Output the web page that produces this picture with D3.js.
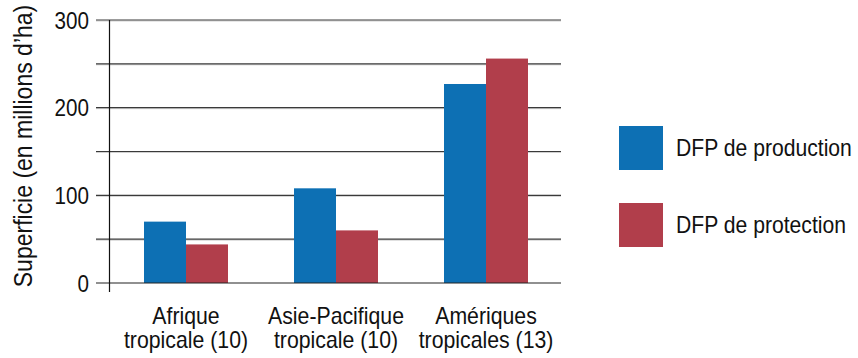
<!DOCTYPE html>
<html>
<head>
<meta charset="utf-8">
<script src="https://cdn.jsdelivr.net/npm/d3@7"></script>
<style>
  body { margin: 0; background: #fff; }
  svg text { font-family: "Liberation Sans", Arial, sans-serif; fill: #111; }
</style>
</head>
<body>
<div id="chart"></div>
<script>
var categories = [["Afrique", "tropicale (10)"], ["Asie-Pacifique", "tropicale (10)"], ["Amériques", "tropicales (13)"]];
var seriesNames = ["DFP de production", "DFP de protection"];
var production = [70, 108, 227];
var protection = [44, 60, 256];
var yTicks = [0, 100, 200, 300];
var gridValues = [50, 100, 150, 200, 250, 300];
var colors = ["#0d70b4", "#b13e4b"];

var svg = d3.select("#chart").append("svg")
    .attr("width", 858)
    .attr("height", 358);

var y = d3.scaleLinear().domain([0, 300]).range([283, 20]);
var x = d3.scaleBand()
    .domain(d3.range(categories.length))
    .range([111, 561])
    .paddingInner(0.44)
    .paddingOuter(0.22);
var xs = d3.scaleBand().domain([0, 1]).range([0, x.bandwidth()]);

// gridlines (with a faint shadow under each)
svg.append("g").selectAll("line")
    .data(gridValues)
    .enter().append("line")
    .attr("x1", 96).attr("x2", 561)
    .attr("y1", function(d) { return y(d) + 1; })
    .attr("y2", function(d) { return y(d) + 1; })
    .style("stroke", "#d0d0d0").style("stroke-width", 1);
svg.append("g").selectAll("line")
    .data(gridValues)
    .enter().append("line")
    .attr("x1", 96).attr("x2", 561)
    .attr("y1", function(d) { return y(d); })
    .attr("y2", function(d) { return y(d); })
    .style("stroke", "#3a3a3a").style("stroke-width", 1.2);

// bars
var data = [production, protection];
var groups = svg.append("g").selectAll("g")
    .data(data)
    .enter().append("g")
    .style("fill", function(d, i) { return colors[i]; });
groups.each(function(series, si) {
    d3.select(this).selectAll("rect")
        .data(series)
        .enter().append("rect")
        .attr("x", function(d, i) { return x(i) + xs(si); })
        .attr("y", function(d) { return y(d); })
        .attr("width", xs.bandwidth())
        .attr("height", function(d) { return y(0) - y(d); });
});

// baseline
svg.append("line")
    .attr("x1", 96).attr("x2", 561)
    .attr("y1", y(0)).attr("y2", y(0))
    .style("stroke", "#222").style("stroke-width", 1.2);

// y axis line
svg.append("line")
    .attr("x1", 109.5).attr("x2", 109.5)
    .attr("y1", y(300)).attr("y2", 292)
    .style("stroke", "#111").style("stroke-width", 1.2);

// y tick labels (narrow look: squeeze horizontally)
svg.append("g").selectAll("text")
    .data(yTicks)
    .enter().append("text")
    .attr("transform", function(d) { return "translate(89," + y(d) + ") scale(0.86,1)"; })
    .attr("dy", "0.36em")
    .attr("text-anchor", "end")
    .style("font-size", "24px")
    .text(function(d) { return d; });

// y axis title
svg.append("text")
    .attr("transform", "translate(32,146) rotate(-90) scale(0.92,1)")
    .attr("text-anchor", "middle")
    .style("font-size", "25px")
    .text("Superficie (en millions d’ha)");

// x labels
var xl = svg.append("g").selectAll("text")
    .data(categories)
    .enter().append("text")
    .attr("transform", function(d, i) { return "translate(" + (x(i) + x.bandwidth() / 2) + ",0) scale(0.925,1)"; })
    .attr("text-anchor", "middle")
    .style("font-size", "23px");
xl.append("tspan")
    .attr("x", 0)
    .attr("y", 324)
    .text(function(d) { return d[0]; });
xl.append("tspan")
    .attr("x", 0)
    .attr("y", 348)
    .text(function(d) { return d[1]; });

// legend
var legend = svg.append("g").selectAll("g")
    .data(seriesNames)
    .enter().append("g")
    .attr("transform", function(d, i) { return "translate(619," + (126 + i * 77) + ")"; });
legend.append("rect")
    .attr("width", 44).attr("height", 44)
    .style("fill", function(d, i) { return colors[i]; });
legend.append("text")
    .attr("transform", "translate(57,22) scale(0.9,1)")
    .attr("dy", "0.36em")
    .style("font-size", "23.5px")
    .text(function(d) { return d; });
</script>
</body>
</html>
